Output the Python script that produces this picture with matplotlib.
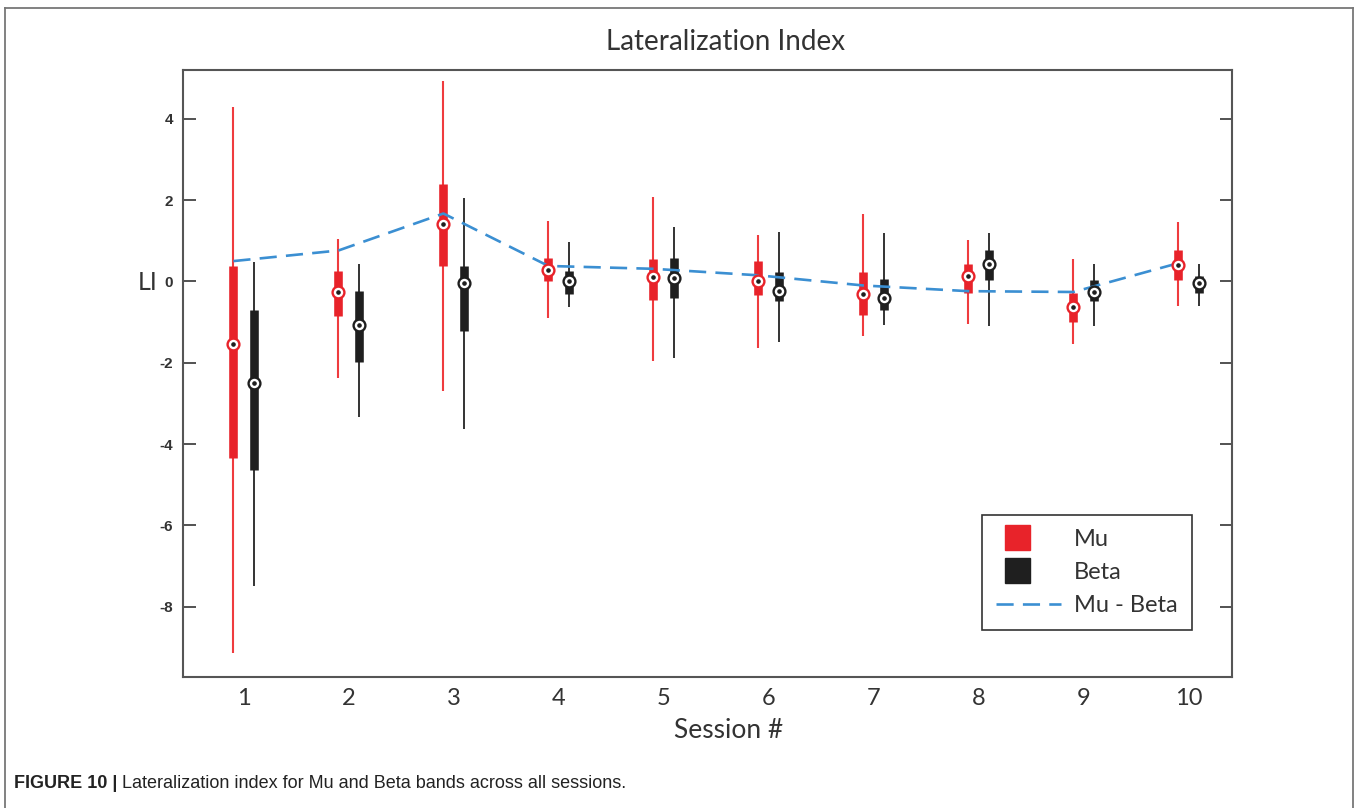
import numpy as np
import matplotlib.pyplot as plt
from matplotlib.lines import Line2D
from matplotlib.patches import Patch, Rectangle
from matplotlib.legend_handler import HandlerPatch

plt.rcParams['axes.unicode_minus'] = False

sessions = [1, 2, 3, 4, 5, 6, 7, 8, 9, 10]

# Mu band: whisker low, q1, median, q3, whisker high
mu_lo = [-9.14, -2.38, -2.70, -0.91, -1.95, -1.65, -1.34, -1.04, -1.54, -0.60]
mu_q1 = [-4.35, -0.85, 0.38, 0.01, -0.46, -0.34, -0.83, -0.29, -1.00, 0.03]
mu_med = [-1.54, -0.25, 1.41, 0.28, 0.11, 0.01, -0.32, 0.13, -0.64, 0.41]
mu_q3 = [0.38, 0.25, 2.40, 0.58, 0.56, 0.50, 0.23, 0.44, -0.28, 0.77]
mu_hi = [4.30, 1.05, 4.93, 1.48, 2.07, 1.13, 1.67, 1.03, 0.56, 1.46]

# Beta band
beta_lo = [-7.48, -3.33, -3.63, -0.62, -1.89, -1.50, -1.07, -1.10, -1.10, -0.60]
beta_q1 = [-4.65, -1.99, -1.22, -0.32, -0.40, -0.47, -0.70, 0.03, -0.48, -0.29]
beta_med = [-2.50, -1.07, -0.03, 0.00, 0.09, -0.24, -0.40, 0.44, -0.25, -0.03]
beta_q3 = [-0.70, -0.24, 0.38, 0.25, 0.58, 0.24, 0.05, 0.78, 0.03, 0.13]
beta_hi = [0.47, 0.42, 2.05, 0.96, 1.33, 1.21, 1.18, 1.18, 0.43, 0.42]

# Mu - Beta
diff = [0.50, 0.76, 1.67, 0.38, 0.31, 0.15, -0.10, -0.24, -0.26, 0.45]

RED = '#e8232a'
RED_W = '#ef3b3e'
BLK = '#1f1f1f'
BLK_W = '#333333'
BLUE = '#3b8fd2'

W, H = 1359, 808
fig = plt.figure(figsize=(W / 100, H / 100), dpi=100)
ax = fig.add_axes([183 / W, 1 - 677 / H, (1232 - 183) / W, (677 - 70) / H])

x = np.array(sessions, dtype=float)
xm = x - 0.1
xb = x + 0.1

# whiskers
ax.vlines(xm, mu_lo, mu_hi, color=RED_W, lw=1.5, capstyle='butt', zorder=2)
ax.vlines(xb, beta_lo, beta_hi, color=BLK_W, lw=1.4, capstyle='butt', zorder=2)
# boxes
ax.vlines(xm, mu_q1, mu_q3, color=RED, lw=6.2, capstyle='butt', zorder=2)
ax.vlines(xb, beta_q1, beta_q3, color=BLK, lw=6.2, capstyle='butt', zorder=2)

# Mu - Beta dashed line
ax.plot(xm, diff, color=BLUE, lw=1.9, dashes=(6.5, 3.5), zorder=3)

# medians
ax.plot(xm, mu_med, 'o', ms=8.5, mfc='white', mec=RED, mew=1.7, zorder=4)
ax.plot(xb, beta_med, 'o', ms=8.5, mfc='white', mec=BLK, mew=1.7, zorder=4)
ax.plot(xm, mu_med, 'o', ms=2.3, mfc=BLK, mec=BLK, zorder=5)
ax.plot(xb, beta_med, 'o', ms=2.3, mfc=BLK, mec=BLK, zorder=5)

ax.set_xlim(0.42, 10.41)
ax.set_ylim(-9.73, 5.20)
ax.set_xticks(sessions)
ax.set_xticklabels([str(s) for s in sessions], fontsize=17, family='Lato', color='#333333')
ax.set_yticks([-8, -6, -4, -2, 0, 2, 4])
ax.set_yticklabels(['-8', '-6', '-4', '-2', '0', '2', '4'], fontsize=11,
                   family='Liberation Sans', color='#333333', fontweight='bold')
ax.tick_params(axis='x', length=0, pad=8)
ax.tick_params(axis='y', direction='in', length=9, width=1.3, color='#444444',
               right=True, pad=7)
for sp in ax.spines.values():
    sp.set_color('#555555')
    sp.set_linewidth(1.5)

ax.text(0.517, 1 + 28 / 607, 'Lateralization Index', transform=ax.transAxes,
        ha='center', va='center', fontsize=20, family='Lato', color='#333333')
ax.text(0.52, -53 / 607, 'Session #', transform=ax.transAxes,
        ha='center', va='center', fontsize=19, family='Lato', color='#333333')
ax.text(-35 / 1049, (677 - 282) / 607, 'LI', transform=ax.transAxes,
        ha='center', va='center', fontsize=18, family='Lato', color='#333333')


def square_patch(legend, orig_handle, xdescent, ydescent, width, height, fontsize):
    s = 18
    return Rectangle((-xdescent + 6, -ydescent + height / 2 - s / 2), s, s)


handles = [Patch(facecolor=RED, edgecolor=RED),
           Patch(facecolor=BLK, edgecolor=BLK),
           Line2D([0], [0], color=BLUE, lw=1.9, dashes=(6.5, 3.5))]
leg = ax.legend(handles, ['Mu', 'Beta', 'Mu - Beta'], loc='upper left',
                bbox_to_anchor=((982 - 183) / 1049, (677 - 515) / 607),
                borderaxespad=0, fancybox=False, framealpha=1,
                prop={'family': 'Lato', 'size': 17}, handlelength=2.75,
                handletextpad=0.55, borderpad=0.6, labelspacing=0.5,
                handler_map={Patch: HandlerPatch(patch_func=square_patch)})
leg.get_frame().set_edgecolor('#333333')
leg.get_frame().set_linewidth(1.2)
for t in leg.get_texts():
    t.set_color('#333333')

# outer frame of the figure panel
fr = dict(color='#777777', lw=1.3, transform=fig.transFigure)
fig.add_artist(Line2D([5 / W, 5 / W], [0, 1 - 7.5 / H], **fr))
fig.add_artist(Line2D([5 / W, 1353 / W], [1 - 7.5 / H, 1 - 7.5 / H], **fr))
fig.add_artist(Line2D([1353 / W, 1353 / W], [0, 1 - 7.5 / H], **fr))

cap1 = fig.text(14 / W, 1 - 783 / H, 'FIGURE 10 | ', fontsize=13,
                family='Liberation Sans', fontweight='bold', va='center',
                color='#222222')
ax.annotate('Lateralization index for Mu and Beta bands across all sessions.',
            xy=(1, 0), xycoords=cap1, va='bottom', ha='left', fontsize=13,
            family='Liberation Sans', color='#222222', annotation_clip=False)

fig.savefig('out.png', dpi=100)
